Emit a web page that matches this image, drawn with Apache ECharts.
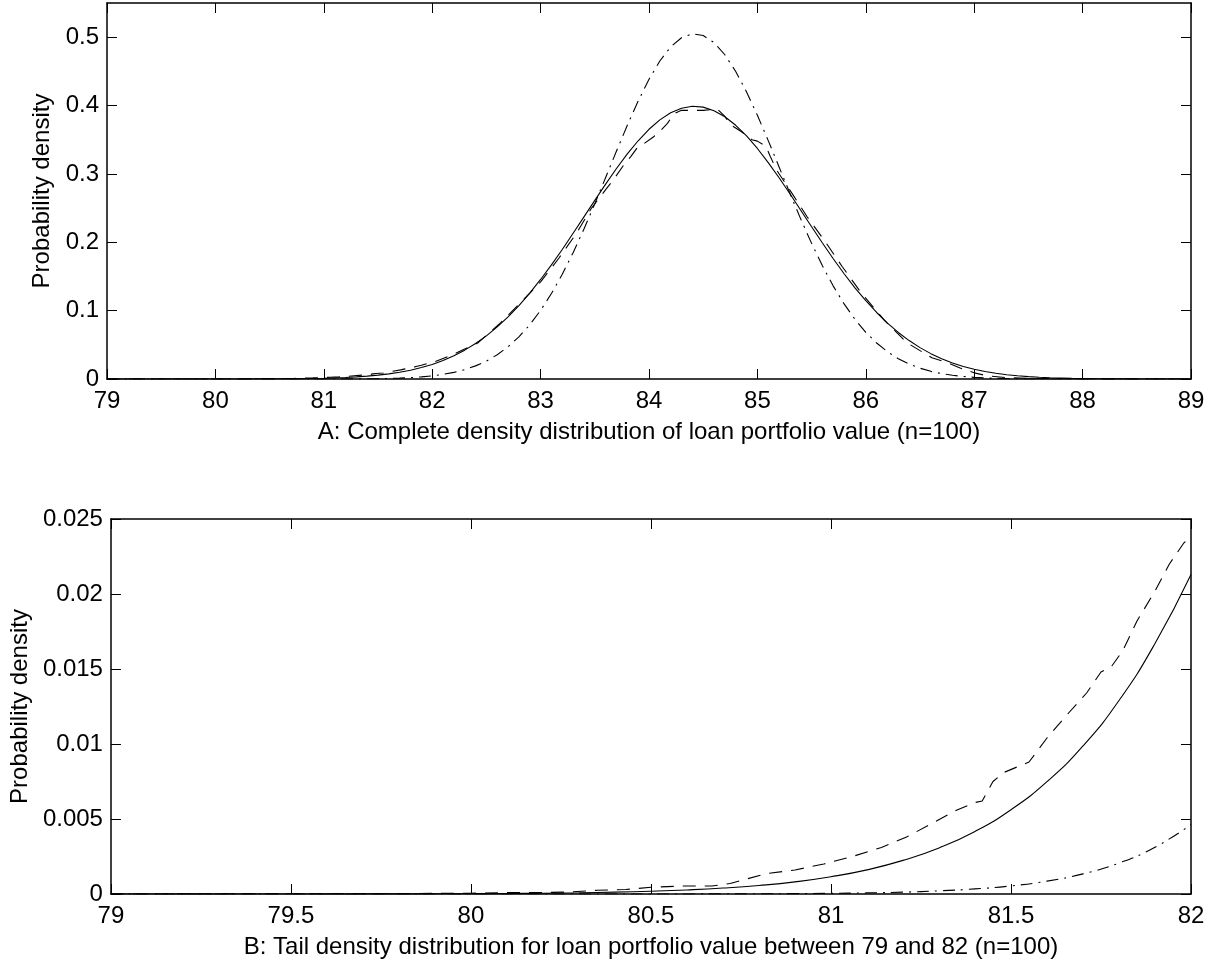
<!DOCTYPE html>
<html><head><meta charset="utf-8">
<script src="https://cdn.jsdelivr.net/npm/echarts@6/dist/echarts.min.js"></script>
<style>html,body{margin:0;padding:0;background:#fff}#c{width:1219px;height:964px}</style>
</head><body><div id="c"></div>
<script>
// x grid for the two smooth curves
const xs = [79.0,79.1,79.2,79.3,79.4,79.5,79.6,79.7,79.8,79.9,
80.0,80.1,80.2,80.3,80.4,80.5,80.6,80.7,80.8,80.9,
81.0,81.1,81.2,81.3,81.4,81.5,81.6,81.7,81.8,81.9,
82.0,82.1,82.2,82.3,82.4,82.5,82.6,82.7,82.8,82.9,
83.0,83.1,83.2,83.3,83.4,83.5,83.6,83.7,83.8,83.9,
84.0,84.1,84.2,84.3,84.4,84.5,84.6,84.7,84.8,84.9,
85.0,85.1,85.2,85.3,85.4,85.5,85.6,85.7,85.8,85.9,
86.0,86.1,86.2,86.3,86.4,86.5,86.6,86.7,86.8,86.9,
87.0,87.1,87.2,87.3,87.4,87.5,87.6,87.7,87.8,87.9,
88.0,88.1,88.2,88.3,88.4,88.5,88.6,88.7,88.8,88.9,89.0];
// solid curve
const solid = [0,0,0,0.000001,0.000001,0.000002,0.000004,0.000006,0.000009,0.000015,
0.000023,0.000035,0.000054,0.000082,0.000124,0.000184,0.000271,0.000395,0.000569,0.00081,
0.00115,0.00161,0.00224,0.00307,0.00417,0.00562,0.00749,0.00987,0.0129,0.0167,
0.0213,0.0270,0.0339,0.0422,0.0519,0.0631,0.0762,0.0909,0.1074,0.1257,
0.1456,0.1669,0.1895,0.2131,0.2371,0.2613,0.2850,0.3079,0.3292,0.3485,
0.3653,0.3790,0.3894,0.3961,0.3989,0.3977,0.3925,0.3836,0.3711,0.3555,
0.3372,0.3166,0.2943,0.2709,0.2468,0.2227,0.1989,0.1759,0.1540,0.1334,
0.1145,0.0973,0.0818,0.0681,0.0562,0.0459,0.0371,0.0297,0.0235,0.0184,
0.0143,0.0110,0.0084,0.0063,0.0047,0.0035,0.0025,0.0018,0.0013,0.0009,
0.0007,0.00046,0.00032,0.00021,0.00015,0.0001,0.00006,0.00004,0.00002,0.00002,0.00001];
// dash-dot curve
const dashDot = [0,0,0,0,0,0,0,0,0,0,
0,0,0,0,0,0.000002,0.000004,0.000008,0.000014,0.000025,
0.000043,0.000074,0.000125,0.00021,0.00034,0.00054,0.00086,0.00134,0.00206,0.00312,
0.00463,0.0068,0.0097,0.0138,0.0192,0.0263,0.0355,0.0472,0.0617,0.0793,
0.1004,0.1250,0.1533,0.1848,0.2194,0.2563,0.2947,0.3334,0.3711,0.4066,
0.4384,0.4652,0.4858,0.4992,0.5049,0.5024,0.4921,0.4743,0.4498,0.4199,
0.3857,0.3487,0.3102,0.2716,0.2339,0.1984,0.1655,0.1359,0.1098,0.0873,
0.0683,0.0526,0.0399,0.0297,0.0218,0.0158,0.0112,0.0078,0.0054,0.0037,
0.0024,0.0016,0.0010,0.0007,0.0004,0.00025,0.00015,0.00009,0.00005,0.00003,
0.00002,0,0,0,0,0,0,0,0,0,0];
// dashed curve (irregular sampling)
const dashX = [79.0,79.5,79.8,80.0,80.1,80.2,80.27,80.35,80.43,80.5,
80.59,80.67,80.72,80.75,80.82,80.9,80.98,81.06,81.14,81.21,
81.28,81.35,81.4,81.42,81.45,81.48,81.55,81.6,81.65,81.71,
81.75,81.78,81.81,81.85,81.9,81.94,81.98,82.0,82.18,82.3,
82.42,82.63,82.81,83.0,83.17,83.33,83.47,83.62,83.67,83.78,
83.83,83.9,83.96,84.04,84.1,84.17,84.23,84.3,84.39,84.5,
84.58,84.63,84.7,84.75,84.85,84.95,85.0,85.08,85.12,85.18,
85.33,85.46,85.63,85.78,85.95,86.17,86.38,86.61,86.75,86.87,
87.0,87.12,87.3,87.5,87.8,88.2,89.0];
const dashY = [0,0.00002,0.00003,0.00005,0.0001,0.0001,0.00013,0.00025,0.0003,0.00045,
0.00053,0.00053,0.0007,0.0009,0.00136,0.0016,0.002,0.0025,0.0031,0.0038,
0.0047,0.0056,0.0061,0.0062,0.0075,0.0081,0.0088,0.0104,0.0118,0.0134,
0.0148,0.0152,0.0162,0.0182,0.0202,0.022,0.0234,0.0238,0.035,0.044,
0.0526,0.082,0.111,0.142,0.177,0.213,0.25,0.281,0.291,0.316,
0.325,0.34,0.345,0.354,0.362,0.374,0.388,0.393,0.393,0.393,
0.394,0.395,0.384,0.372,0.362,0.35,0.348,0.34,0.325,0.305,
0.269,0.237,0.2,0.165,0.1277,0.086,0.053,0.031,0.024,0.016,
0.009,0.0047,0.002,0.001,0.0003,0.0001,0];

const topXTicks = [79,80,81,82,83,84,85,86,87,88,89];
const topYTicks = [0,0.1,0.2,0.3,0.4,0.5];
const botXTicks = [79,79.5,80,80.5,81,81.5,82];
const botYTicks = [0,0.005,0.01,0.015,0.02,0.025];
const topXName = 'A: Complete density distribution of loan portfolio value (n=100)';
const botXName = 'B: Tail density distribution for loan portfolio value between 79 and 82 (n=100)';
const yName = 'Probability density';

const FONT = '"Liberation Sans", Arial, Helvetica, sans-serif';
const FS = 24;
const txt = {color:'#000', fontSize:FS, fontFamily:FONT};

function xAx(grid, min, max, step, ticks, pos, labels, name) {
  return {
    type:'value', gridIndex:grid, min:min, max:max, interval:step, position:pos,
    axisLine:{show:true, onZero:false, lineStyle:{color:'#000', width:1.5}},
    axisTick:{show:true, inside:true, length:10, customValues:ticks, lineStyle:{color:'#000', width:1}},
    axisLabel:{show:labels, customValues:ticks, margin:10, color:'#000', fontSize:FS, fontFamily:FONT, formatter:v=>String(v)},
    splitLine:{show:false},
    name: name || '', nameLocation:'middle', nameGap:41, nameTextStyle:txt
  };
}
function yAx(grid, min, max, step, ticks, pos, labels, name, gap) {
  return {
    type:'value', gridIndex:grid, min:min, max:max, interval:step, position:pos,
    axisLine:{show:true, onZero:false, lineStyle:{color:'#000', width:1.5}},
    axisTick:{show:true, inside:true, length:10, customValues:ticks, lineStyle:{color:'#000', width:1}},
    axisLabel:{show:labels, customValues:ticks, margin:8, color:'#000', fontSize:FS, fontFamily:FONT, formatter:v=>String(v)},
    splitLine:{show:false},
    name: name || '', nameLocation:'middle', nameGap:gap || 0, nameTextStyle:txt
  };
}

const pairs = (X, Y, lo, hi) => X.map((x,i)=>[x, Y[i]]).filter(p=>p[0]>=lo && p[0]<=hi);
const sty = (type) => ({color:'#000', width:1.1, type:type});

const option = {
  animation:false,
  backgroundColor:'#fff',
  grid:[
    {left:107, right:28, top:3, height:376},
    {left:107, right:28, top:519, height:375}
  ],
  xAxis:[
    xAx(0, 79, 89, 1, topXTicks, 'bottom', true, topXName),
    xAx(0, 79, 89, 1, topXTicks, 'top', false),
    xAx(1, 79, 82, 0.5, botXTicks, 'bottom', true, botXName),
    xAx(1, 79, 82, 0.5, botXTicks, 'top', false)
  ],
  yAxis:[
    yAx(0, 0, 0.55, 0.1, topYTicks, 'left', true, yName, 43),
    yAx(0, 0, 0.55, 0.1, topYTicks, 'right', false),
    yAx(1, 0, 0.025, 0.005, botYTicks, 'left', true, yName, 74),
    yAx(1, 0, 0.025, 0.005, botYTicks, 'right', false)
  ],
  series:[
    {type:'line', xAxisIndex:0, yAxisIndex:0, showSymbol:false, data:pairs(xs, solid, 79, 89), lineStyle:sty('solid')},
    {type:'line', xAxisIndex:0, yAxisIndex:0, showSymbol:false, data:pairs(dashX, dashY, 79, 89), lineStyle:sty([13,9])},
    {type:'line', xAxisIndex:0, yAxisIndex:0, showSymbol:false, data:pairs(xs, dashDot, 79, 89), lineStyle:sty([12,6,2,6])},
    {type:'line', xAxisIndex:2, yAxisIndex:2, showSymbol:false, smooth:0.5, data:pairs(xs, solid, 79, 82), lineStyle:sty('solid')},
    {type:'line', xAxisIndex:2, yAxisIndex:2, showSymbol:false, data:pairs(dashX, dashY, 79, 82), lineStyle:sty([13,9])},
    {type:'line', xAxisIndex:2, yAxisIndex:2, showSymbol:false, smooth:0.5, data:pairs(xs, dashDot, 79, 82), lineStyle:sty([12,6,2,6])}
  ]
};
const chart = echarts.init(document.getElementById('c'), null, {renderer:'canvas'});
chart.setOption(option);
</script>
</body></html>
